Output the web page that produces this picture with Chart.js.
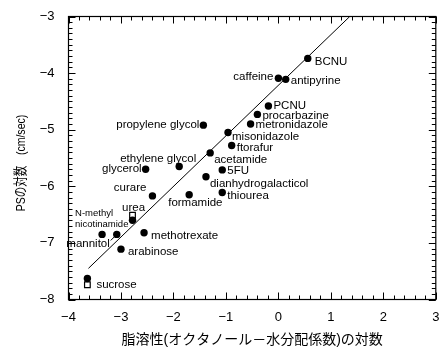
<!DOCTYPE html>
<html>
<head>
<meta charset="utf-8">
<script src="https://cdn.jsdelivr.net/npm/chart.js@4"></script>
<style>
  html, body { margin: 0; padding: 0; background: #fff; }
  #wrap { width: 441px; height: 347px; }
</style>
</head>
<body>
<div id="wrap"><canvas id="psChart" width="441" height="347"></canvas></div>
<script>
// log P (octanol/water) vs log PS (cm/sec)
const names = [
  "BCNU", "caffeine", "antipyrine", "PCNU", "procarbazine", "metronidazole",
  "misonidazole", "propylene glycol", "ftorafur", "acetamide", "5FU",
  "dianhydrogalacticol", "thiourea", "ethylene glycol", "glycerol", "curare",
  "formamide", "", "methotrexate", "N-methyl\nnicotinamide", "mannitol",
  "arabinose", ""
];
const logP = [
  0.56, 0.0, 0.14, -0.19, -0.40, -0.53,
  -0.96, -1.43, -0.89, -1.30, -1.07,
  -1.38, -1.07, -1.89, -2.53, -2.40,
  -1.70, -2.78, -2.56, -3.36, -3.08,
  -3.00, -3.64
];
const logPS = [
  -3.74, -4.09, -4.11, -4.58, -4.73, -4.90,
  -5.05, -4.92, -5.28, -5.41, -5.71,
  -5.83, -6.11, -5.65, -5.70, -6.17,
  -6.15, -6.60, -6.82, -6.85, -6.85,
  -7.11, -7.63
];

// open squares (second measurement)
const sqNames = ["urea", "sucrose"];
const sqLogP = [-2.78, -3.64];
const sqLogPS = [-6.51, -7.74];

// regression line ends
const regX = [-3.62, 1.36];
const regY = [-7.45, -3.0];

const xTicks = [-4, -3, -2, -1, 0, 1, 2, 3];
const yTicks = [-8, -7, -6, -5, -4, -3];

// label placement relative to the marker: [dx, dy, align]
const labelPos = {
  "BCNU": [7, 3, "left"],
  "caffeine": [-5, -1, "right"],
  "antipyrine": [5, 2, "left"],
  "PCNU": [5, 0, "left"],
  "procarbazine": [5, 1, "left"],
  "metronidazole": [5, 1, "left"],
  "misonidazole": [4, 4, "left"],
  "propylene glycol": [-4, 0, "right"],
  "ftorafur": [5, 2, "left"],
  "acetamide": [4, 7, "left"],
  "5FU": [5, 1, "left"],
  "dianhydrogalacticol": [4, 7, "left"],
  "thiourea": [5, 3, "left"],
  "ethylene glycol": [17, -8, "right"],
  "glycerol": [-4, 0, "right"],
  "curare": [-6, -8, "right"],
  "formamide": [-21, 8, "left"],
  "methotrexate": [7, 3, "left"],
  "N-methyl\nnicotinamide": [-27, -21, "left"],
  "mannitol": [-7, 9, "right"],
  "arabinose": [7, 3, "left"],
  "urea": [1, -7, "center"],
  "sucrose": [9, 0, "left"]
};

const LATIN = '"Liberation Sans", Arial, sans-serif';
const JP = '"Liberation Sans", "Noto Sans CJK JP", sans-serif';

const frameAndLabels = {
  id: "frameAndLabels",
  afterDraw(chart) {
    const ctx = chart.ctx;
    const a = chart.chartArea;
    const xs = chart.scales.x;
    const ys = chart.scales.y;
    ctx.save();
    ctx.strokeStyle = "#000";
    ctx.lineWidth = 1.2;
    ctx.strokeRect(a.left, a.top, a.right - a.left, a.bottom - a.top);

    // inward ticks on all four sides
    ctx.lineWidth = 1;
    ctx.beginPath();
    for (let i = -40; i <= 30; i += 2) {
      const px = Math.round(xs.getPixelForValue(i / 10)) + 0.5;
      const len = i % 10 === 0 ? 7 : 4;
      ctx.moveTo(px, a.bottom); ctx.lineTo(px, a.bottom - len);
      ctx.moveTo(px, a.top); ctx.lineTo(px, a.top + len);
    }
    for (let i = -80; i <= -30; i += 1) {
      const py = Math.round(ys.getPixelForValue(i / 10)) + 0.5;
      const len = i % 10 === 0 ? 7 : 4;
      ctx.moveTo(a.left, py); ctx.lineTo(a.left + len, py);
      ctx.moveTo(a.right, py); ctx.lineTo(a.right - len, py);
    }
    ctx.stroke();

    // point labels
    ctx.fillStyle = "#000";
    ctx.textBaseline = "middle";
    const drawLabel = (name, el) => {
      const p = labelPos[name];
      if (!p) return;
      ctx.textAlign = p[2];
      const lines = name.split("\n");
      if (lines.length > 1) {
        ctx.font = "9.5px " + LATIN;
        lines.forEach((t, k) => ctx.fillText(t, el.x + p[0], el.y + p[1] + k * 11));
      } else {
        ctx.font = "11.5px " + LATIN;
        ctx.fillText(name, el.x + p[0], el.y + p[1]);
      }
    };
    chart.getDatasetMeta(0).data.forEach((el, j) => drawLabel(names[j], el));
    chart.getDatasetMeta(1).data.forEach((el, j) => drawLabel(sqNames[j], el));

    // leader from "mannitol" to its marker
    const m = chart.getDatasetMeta(0).data[names.indexOf("mannitol")];
    ctx.beginPath();
    ctx.moveTo(m.x - 6, m.y + 6);
    ctx.lineTo(m.x - 2, m.y + 2);
    ctx.stroke();

    // axis titles
    ctx.font = "14px " + JP;
    ctx.textAlign = "center";
    ctx.fillText("脂溶性(オクタノール－水分配係数)の対数", (a.left + a.right) / 2, 340);
    // y title: rotated, set in a condensed face like the original
    ctx.translate(21.5, 163);
    ctx.rotate(-Math.PI / 2);
    ctx.scale(0.78, 1);
    ctx.font = "13.5px " + JP;
    ctx.fillText("PSの対数\u3000(cm/sec)", 0, 0);
    ctx.restore();
  }
};

const fmt = (v) => (Number.isInteger(v) ? String(v).replace("-", "\u2212") : "");

new Chart(document.getElementById("psChart"), {
  type: "scatter",
  data: {
    datasets: [
      {
        data: logP.map((x, i) => ({ x: x, y: logPS[i] })),
        pointStyle: "circle",
        pointRadius: 3.7,
        backgroundColor: "#000",
        borderColor: "#000",
        borderWidth: 0
      },
      {
        data: sqLogP.map((x, i) => ({ x: x, y: sqLogPS[i] })),
        pointStyle: "rect",
        pointRadius: 4,
        backgroundColor: "#fff",
        borderColor: "#000",
        borderWidth: 1.2
      },
      {
        type: "line",
        data: regX.map((x, i) => ({ x: x, y: regY[i] })),
        borderColor: "#000",
        borderWidth: 1,
        pointRadius: 0,
        fill: false
      }
    ]
  },
  options: {
    responsive: false,
    animation: false,
    layout: { padding: { top: 16.5, right: 5, left: 0, bottom: 0 } },
    plugins: {
      legend: { display: false },
      tooltip: { enabled: false }
    },
    scales: {
      x: {
        type: "linear",
        min: -4,
        max: 3,
        afterBuildTicks: (s) => { s.ticks = xTicks.map((v) => ({ value: v })); },
        afterFit: (s) => {
          s.height = 47.5;
          s.paddingLeft = 0;
          s.paddingRight = 0;
        },
        grid: { display: false, drawTicks: false },
        border: { display: false },
        ticks: {
          color: "#000",
          padding: 10,
          maxRotation: 0,
          font: { family: LATIN, size: 13 },
          callback: fmt
        }
      },
      y: {
        type: "linear",
        min: -8,
        max: -3,
        afterBuildTicks: (s) => { s.ticks = yTicks.map((v) => ({ value: v })); },
        afterFit: (s) => {
          s.width = 68.5;
          s.paddingTop = 0;
          s.paddingBottom = 0;
        },
        grid: { display: false, drawTicks: false },
        border: { display: false },
        ticks: {
          color: "#000",
          padding: 14,
          font: { family: LATIN, size: 13 },
          callback: fmt
        }
      }
    }
  },
  plugins: [frameAndLabels]
});
</script>
</body>
</html>
